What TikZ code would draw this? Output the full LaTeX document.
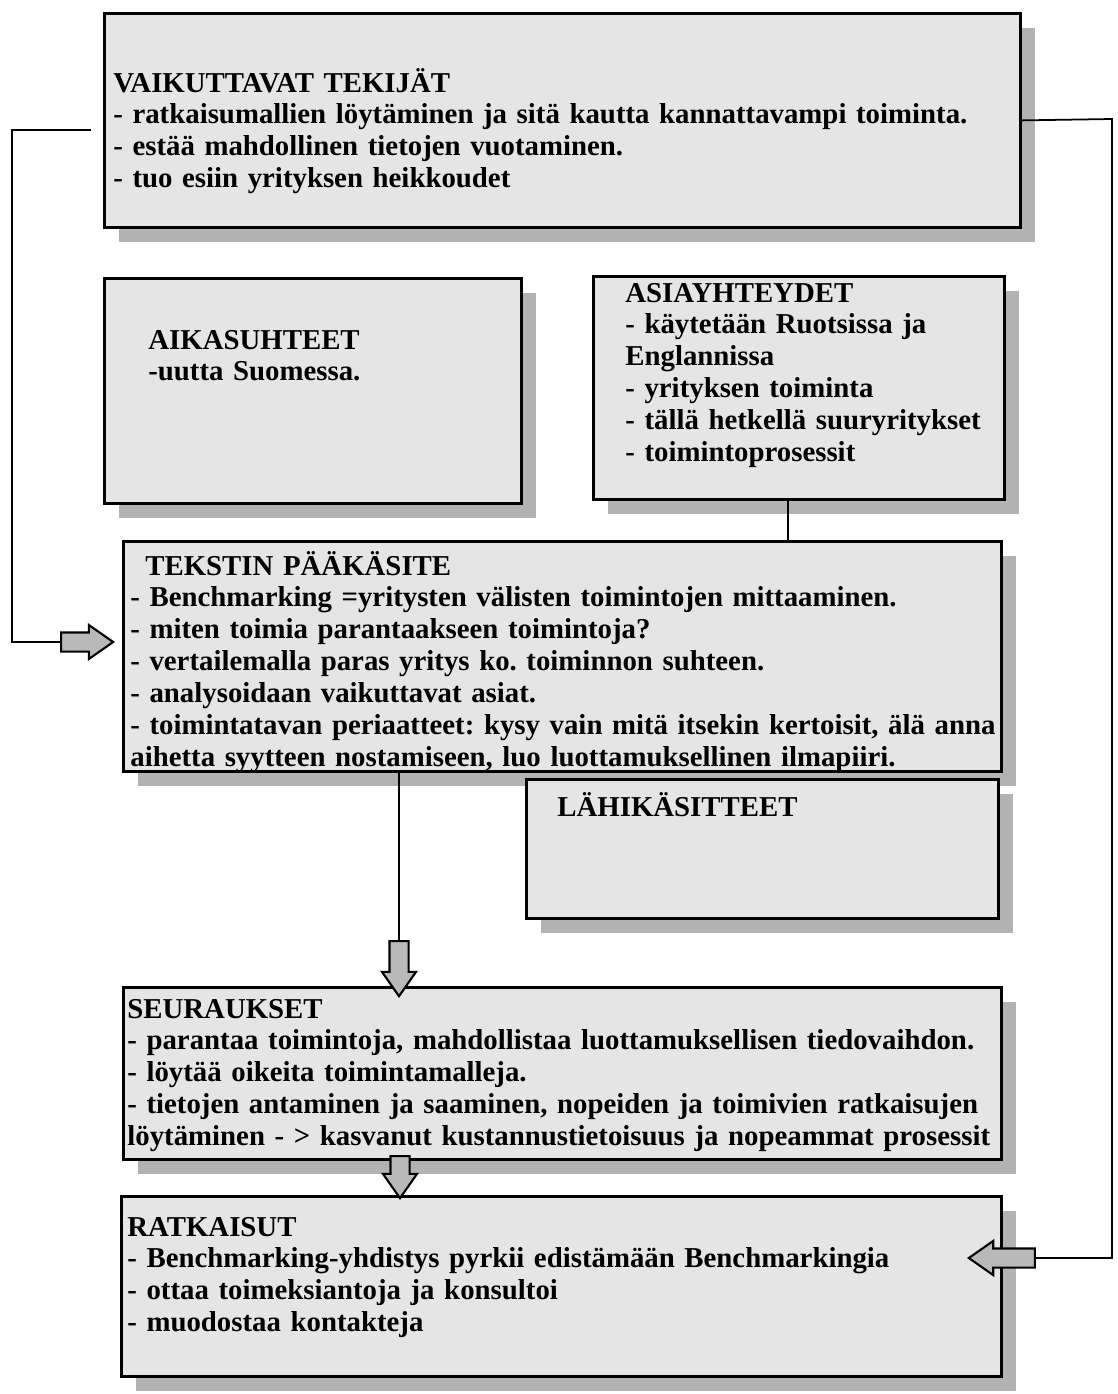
\documentclass[tikz,border=0pt]{standalone}
\usepackage{fontspec}
\setmainfont{Liberation Serif}
\frenchspacing
\usetikzlibrary{shapes.arrows, shadows, positioning}

\begin{document}
\begin{tikzpicture}[
    x=0.02cm, y=-0.02cm,
    % Shaded boxes with drop shadow
    box/.style={
        rectangle, draw=black, line width=1.6pt, fill=gray!20,
        anchor=north west, inner sep=0pt,
        drop shadow={shadow xshift=0.3cm, shadow yshift=-0.3cm,
            fill=gray!60, opacity=1}
    },
    % Box texts
    txt/.style={
        anchor=base west, inner sep=0pt, align=left, text width=19cm,
        font=\fontsize{16.4}{18.2}\selectfont\bfseries
    },
    % Block arrows (horizontal)
    fat/.style={
        single arrow, draw=black, line width=1.2pt, fill=gray!55,
        inner xsep=0pt, inner ysep=0.17cm,
        single arrow head extend=0.15cm, single arrow tip angle=70
    },
    % Block arrows (pointing down)
    fatdown/.style={
        fat, inner xsep=0.17cm, inner ysep=0pt, shape border rotate=270
    },
    % Thin connector
    conn/.style={line width=1pt, black},
]
\useasboundingbox (0,0) rectangle (1118,1394);

% ===== BOXES =====
\node[box, minimum width=18.32cm, minimum height=4.28cm] (vaik) at (103,12) {};
\node[txt] (vaiktxt) at (113,92)
    {VAIKUTTAVAT TEKIJÄT\\
     - ratkaisumallien löytäminen ja sitä kautta kannattavampi toiminta.\\
     - estää mahdollinen tietojen vuotaminen.\\
     - tuo esiin yrityksen heikkoudet};

\node[box, minimum width=8.34cm, minimum height=4.5cm] (aika) at (103,277) {};
\node[txt] (aikatxt) at (148,349)
    {AIKASUHTEET\\
     -uutta Suomessa.};

\node[box, minimum width=8.22cm, minimum height=4.46cm] (asia) at (592,275) {};
\node[txt] (asiatxt) at (625,302)
    {ASIAYHTEYDET\\
     - käytetään Ruotsissa ja\\
     Englannissa\\
     - yrityksen toiminta\\
     - tällä hetkellä suuryritykset\\
     - toimintoprosessit};

\node[box, minimum width=17.56cm, minimum height=4.6cm] (teks) at (122,540) {};
\node[txt] (tekstxt) at (130,575)
    {\hspace*{0.3cm}TEKSTIN PÄÄKÄSITE\\
     - Benchmarking =yritysten välisten toimintojen mittaaminen.\\
     - miten toimia parantaakseen toimintoja?\\
     - vertailemalla paras yritys ko. toiminnon suhteen.\\
     - analysoidaan vaikuttavat asiat.\\
     - toimintatavan periaatteet: kysy vain mitä itsekin kertoisit, älä anna\\
     aihetta syytteen nostamiseen, luo luottamuksellinen ilmapiiri.};

\node[box, minimum width=9.44cm, minimum height=2.78cm] (lahi) at (525,778) {};
\node[txt] (lahitxt) at (557,816) {LÄHIKÄSITTEET};

\node[box, minimum width=17.56cm, minimum height=3.44cm] (seur) at (122,986) {};
\node[txt] (seurtxt) at (127,1018)
    {SEURAUKSET\\
     - parantaa toimintoja, mahdollistaa luottamuksellisen tiedovaihdon.\\
     - löytää oikeita toimintamalleja.\\
     - tietojen antaminen ja saaminen, nopeiden ja toimivien ratkaisujen\\
     löytäminen - > kasvanut kustannustietoisuus ja nopeammat prosessit};

\node[box, minimum width=17.6cm, minimum height=3.6cm] (ratk) at (120,1195) {};
\node[txt] (ratktxt) at (127,1236)
    {RATKAISUT\\
     - Benchmarking-yhdistys pyrkii edistämään Benchmarkingia\\
     - ottaa toimeksiantoja ja konsultoi\\
     - muodostaa kontakteja};

% ===== BLOCK ARROWS =====
\node[fat, anchor=tip, minimum height=1.04cm] (arrL) at (115,642) {};
\node[fatdown, anchor=tip, minimum height=1.1cm] (arrD1) at (399,998) {};
\node[fatdown, anchor=tip, minimum height=0.84cm] (arrD2) at (400,1200) {};
\node[fat, anchor=tip, minimum height=1.32cm, shape border rotate=180] (arrR) at (967,1258) {};

% ===== CONNECTORS =====
\coordinate (lstart) at (91,130);
\coordinate (lturn) at (12,130);
\coordinate (rturn) at (1112,119);
\draw[conn] (lstart) -- (lturn) |- (arrL.tail);
\draw[conn] (vaik.east) -- (rturn) |- (arrR.tail);
\draw[conn] ([xshift=-0.22cm]asia.south) -- ([xshift=-0.22cm]asia.south |- teks.north);
\draw[conn] (arrD1.tail |- teks.south) -- (arrD1.tail);

\end{tikzpicture}
\end{document}
